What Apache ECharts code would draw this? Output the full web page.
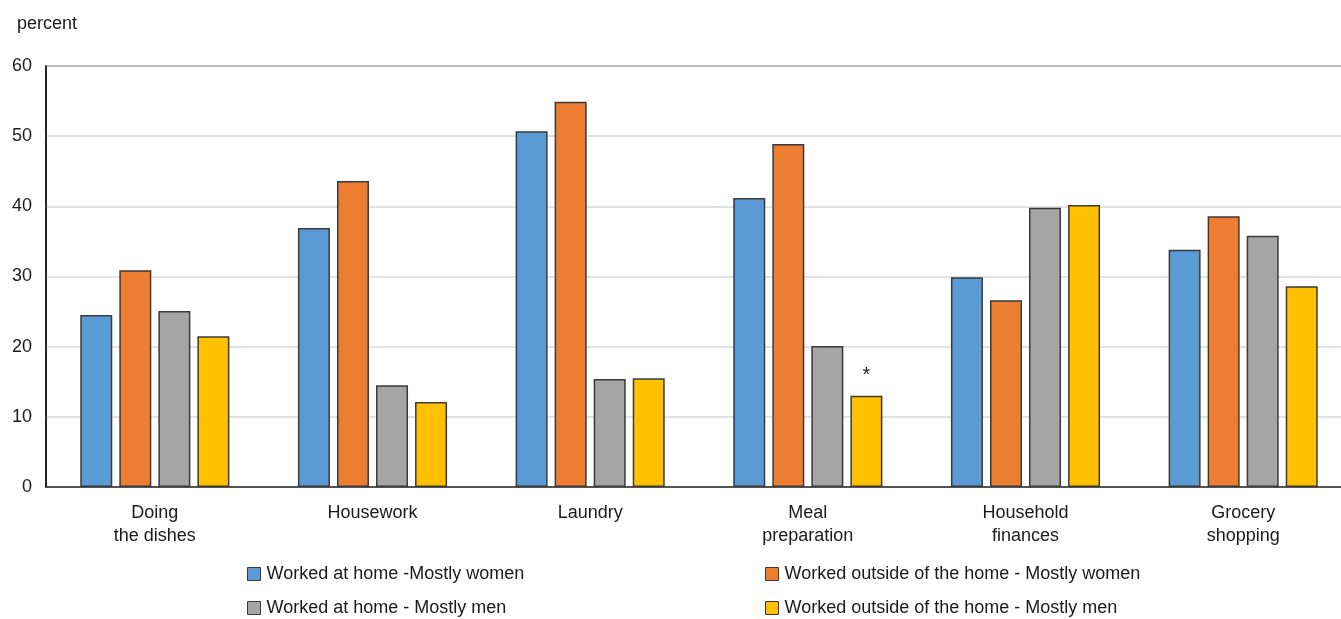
<!DOCTYPE html>
<html>
<head>
<meta charset="utf-8">
<script src="https://cdn.jsdelivr.net/npm/echarts@6/dist/echarts.min.js"></script>
<style>
  html, body { margin: 0; padding: 0; background: #fff; }
  #chart { width: 1341px; height: 619px; }
</style>
</head>
<body>
<div id="chart"></div>
<script>
// Shared housework tasks by work location and gender (percent)
const categories = ['Doing\nthe dishes', 'Housework', 'Laundry', 'Meal\npreparation', 'Household\nfinances', 'Grocery\nshopping'];
const seriesNames = [
  'Worked at home -Mostly women',
  'Worked outside of the home - Mostly women',
  'Worked at home - Mostly men',
  'Worked outside of the home - Mostly men'
];
const homeWomen    = [24.5, 36.9, 50.7, 41.2, 29.9, 33.8];
const outsideWomen = [30.9, 43.6, 54.9, 48.9, 26.6, 38.6];
const homeMen      = [25.1, 14.5, 15.4, 20.1, 39.8, 35.8];
const outsideMen   = [21.5, 12.1, 15.5, 13.0, 40.2, 28.6];
const yTicks = [0, 10, 20, 30, 40, 50, 60];
// index of the value flagged with an asterisk (use with caution)
const flaggedOutsideMen = 3;

const colors = ['#5B9BD5', '#ED7D31', '#A5A5A5', '#FFC000'];
const FONT = '"Liberation Sans Narrow", "Arial Narrow", "Liberation Sans", sans-serif';
const TXT = '#1a1a1a';

const values = [homeWomen, outsideWomen, homeMen, outsideMen];

const series = values.map((vals, i) => ({
  name: seriesNames[i],
  type: 'bar',
  barWidth: 32,
  barGap: '22%',
  itemStyle: { color: colors[i], borderColor: '#3a3a3a', borderWidth: 1.5 },
  data: vals.map((v, j) => {
    if (i === 3 && j === flaggedOutsideMen) {
      return {
        value: v,
        label: { show: true, position: 'top', distance: 10, formatter: '*',
                 fontFamily: FONT, fontSize: 20, color: TXT }
      };
    }
    return v;
  })
}));

// legend laid out in two columns, two rows
const legendPos = [
  { left: 247, top: 565 },
  { left: 765, top: 565 },
  { left: 247, top: 599 },
  { left: 765, top: 599 }
];
const legends = seriesNames.map((n, i) => ({
  left: legendPos[i].left,
  top: legendPos[i].top,
  data: [n],
  icon: 'rect',
  itemWidth: 13,
  itemHeight: 13,
  itemGap: 0,
  padding: 0,
  selectedMode: false,
  itemStyle: { borderColor: '#3a3a3a', borderWidth: 1 },
  textStyle: { fontFamily: FONT, fontSize: 18, color: TXT, padding: [0, 0, 0, 1] }
}));

const chart = echarts.init(document.getElementById('chart'), null, { renderer: 'canvas' });
chart.setOption({
  animation: false,
  color: colors,
  title: {
    text: 'percent',
    left: 12, top: 10,
    textStyle: { fontFamily: FONT, fontSize: 18, fontWeight: 'normal', color: TXT }
  },
  legend: legends,
  grid: {
    left: 46, width: 1306, top: 66, height: 421,
    outerBoundsMode: 'none',
    containLabel: false,
    show: true, borderColor: '#333', borderWidth: 1.5, backgroundColor: 'transparent'
  },
  xAxis: {
    type: 'category',
    data: categories,
    axisLine: { lineStyle: { color: '#333', width: 1.5 } },
    axisTick: { show: false },
    axisLabel: { fontFamily: FONT, fontSize: 18, color: TXT, lineHeight: 23, margin: 15 }
  },
  yAxis: {
    type: 'value',
    min: yTicks[0],
    max: yTicks[yTicks.length - 1],
    interval: 10,
    axisLine: { show: true, lineStyle: { color: '#111', width: 1.5 } },
    axisTick: { show: false },
    splitLine: { lineStyle: { color: '#d9d9d9', width: 1.5 } },
    axisLabel: { fontFamily: FONT, fontSize: 18, color: TXT, margin: 14 }
  },
  series: series
});
</script>
</body>
</html>
